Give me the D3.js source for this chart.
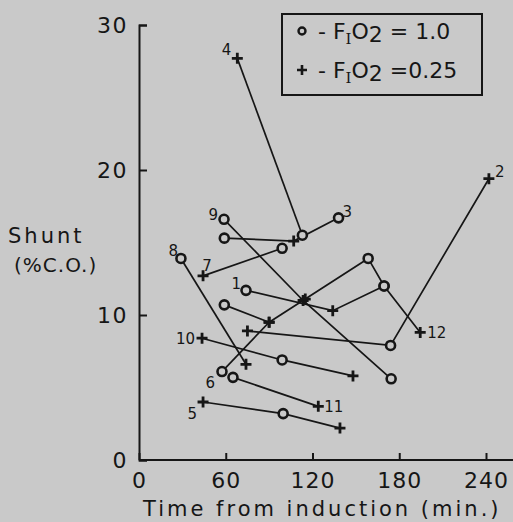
<!DOCTYPE html>
<html>
<head>
<meta charset="utf-8">
<script src="https://cdn.jsdelivr.net/npm/d3@7"></script>
<style>
  html, body { margin: 0; padding: 0; background: #c9c9c9; }
  svg { display: block; }
</style>
</head>
<body>
<div id="chart"></div>
<script>
// one entry per patient: times (min), shunt (%C.O.), FIO2 marker per point
const patientIds = ["1", "2", "3", "4", "5", "6", "7", "8", "9", "10", "11", "12"];
const patientTimes = [
  [74, 134, 169.5],
  [75, 174, 242],
  [59, 107, 138],
  [68, 113],
  [44.3, 99.7, 139],
  [57.4, 90],
  [44.3, 99],
  [29, 74],
  [58.8, 113.5, 174.4],
  [43.6, 99, 148],
  [65, 124],
  [59, 90, 115, 158.5, 169.5, 194.5]
];
const patientShunts = [
  [11.7, 10.3, 12.0],
  [8.9, 7.9, 19.4],
  [15.3, 15.1, 16.7],
  [27.7, 15.5],
  [4.0, 3.2, 2.2],
  [6.1, 9.5],
  [12.7, 14.6],
  [13.9, 6.6],
  [16.6, 11.0, 5.6],
  [8.4, 6.9, 5.8],
  [5.7, 3.7],
  [10.7, 9.5, 11.1, 13.9, 12.0, 8.8]
];
const patientFio2 = [
  ["1.0", "0.25", "1.0"],
  ["0.25", "1.0", "0.25"],
  ["1.0", "0.25", "1.0"],
  ["0.25", "1.0"],
  ["0.25", "1.0", "0.25"],
  ["1.0", "0.25"],
  ["0.25", "1.0"],
  ["1.0", "0.25"],
  ["1.0", "0.25", "1.0"],
  ["0.25", "1.0", "0.25"],
  ["1.0", "0.25"],
  ["1.0", "0.25", "0.25", "1.0", "1.0", "0.25"]
];
// which point the number is written next to
const labelAt = [0, 2, 2, 0, 0, 0, 0, 0, 0, 0, 1, 5];

const xTicks = [0, 60, 120, 180, 240];
const yTicks = [0, 10, 20, 30];

// label placement (styling only): dx, dy, anchor
const labelOffsets = [
  [-5, -1, "end"], [6, -2, "start"], [4, -1, "start"], [-6, -3, "end"],
  [-6, 17, "end"], [-7, 16, "end"], [4, -5, "middle"], [-3, -2, "end"],
  [-6, 1, "end"], [-7, 6, "end"], [6, 6, "start"], [7, 6, "start"]
];

const width = 513, height = 522;
const ink = "#161616";
const bg = "#c9c9c9";
const font = "'DejaVu Sans', sans-serif";

const svg = d3.select("#chart")
  .append("svg")
    .attr("width", width)
    .attr("height", height);

svg.append("rect").attr("width", width).attr("height", height).attr("fill", bg);

const x = d3.scaleLinear().domain([0, 240]).range([139, 486]);
const y = d3.scaleLinear().domain([0, 30]).range([460, 25]);

// y axis, ticks pointing inward
const yAxis = svg.append("g")
    .attr("transform", `translate(${x(0)},0)`)
    .call(d3.axisLeft(y).tickValues(yTicks).tickSizeInner(-8).tickSizeOuter(-8).tickPadding(11).tickFormat(d3.format("d")));
yAxis.selectAll("path, line").attr("stroke", ink).attr("stroke-width", 2);
yAxis.selectAll("text").attr("fill", ink).style("font", `22px ${font}`).style("letter-spacing", "1.5px");

// x axis, ticks pointing up
const xAxis = svg.append("g")
    .attr("transform", `translate(0,${y(0)})`)
    .call(d3.axisBottom(x).tickValues(xTicks).tickSizeInner(-7).tickSizeOuter(0).tickPadding(12).tickFormat(d3.format("d")));
xAxis.select(".domain").remove();
xAxis.selectAll("line").attr("stroke", ink).attr("stroke-width", 2);
xAxis.selectAll("text").attr("fill", ink).style("font", `22px ${font}`).style("letter-spacing", "1px");
xAxis.append("line")
    .attr("x1", x(0)).attr("x2", width)
    .attr("stroke", ink).attr("stroke-width", 2);

// axis titles
svg.append("text")
    .attr("x", 143).attr("y", 516)
    .attr("fill", ink).style("font", `21px ${font}`).style("letter-spacing", "3px")
    .text("Time from induction (min.)");
svg.append("text")
    .attr("x", 8).attr("y", 243)
    .attr("fill", ink).style("font", `21px ${font}`).style("letter-spacing", "3px")
    .text("Shunt");
svg.append("text")
    .attr("x", 14).attr("y", 272)
    .attr("fill", ink).style("font", `20px ${font}`).style("letter-spacing", "1px")
    .text("(%C.O.)");

const patients = patientIds.map((id, i) => ({
  id: id,
  label: labelAt[i],
  off: labelOffsets[i],
  pts: patientTimes[i].map((t, j) => ({ t: t, v: patientShunts[i][j], f: patientFio2[i][j] }))
}));

const line = d3.line().x(d => x(d.t)).y(d => y(d.v));

svg.append("g").selectAll("path")
  .data(patients)
  .enter()
  .append("path")
    .attr("d", d => line(d.pts))
    .attr("fill", "none")
    .attr("stroke", ink)
    .attr("stroke-width", 1.7);

const allPts = patients.flatMap(p => p.pts);

// FIO2 = 1.0 -> open circles
svg.append("g").selectAll("circle")
  .data(allPts.filter(d => d.f == "1.0"))
  .enter()
  .append("circle")
    .attr("cx", d => x(d.t))
    .attr("cy", d => y(d.v))
    .attr("r", 4.5)
    .attr("fill", bg)
    .attr("stroke", ink)
    .attr("stroke-width", 2.6);

// FIO2 = 0.25 -> plus signs
svg.append("g").selectAll("path")
  .data(allPts.filter(d => d.f == "0.25"))
  .enter()
  .append("path")
    .attr("transform", d => `translate(${x(d.t)},${y(d.v)})`)
    .attr("d", "M-5.5,0H5.5M0,-5.5V5.5")
    .attr("stroke", ink)
    .attr("stroke-width", 2.8);

// patient numbers
svg.append("g").selectAll("text")
  .data(patients)
  .enter()
  .append("text")
    .attr("x", d => x(d.pts[d.label].t) + d.off[0])
    .attr("y", d => y(d.pts[d.label].v) + d.off[1])
    .attr("text-anchor", d => d.off[2])
    .attr("fill", ink)
    .style("font", `15px ${font}`)
    .text(d => d.id);

// legend
const lg = svg.append("g");
lg.append("rect")
    .attr("x", 282).attr("y", 14).attr("width", 200).attr("height", 81)
    .attr("fill", "none").attr("stroke", ink).attr("stroke-width", 2);
lg.append("circle")
    .attr("cx", 302).attr("cy", 31).attr("r", 3.5)
    .attr("fill", bg).attr("stroke", ink).attr("stroke-width", 2.4);
lg.append("path")
    .attr("transform", "translate(302,70)")
    .attr("d", "M-5,0H5M0,-5V5")
    .attr("stroke", ink).attr("stroke-width", 2.6);

const legendRows = [["1.0", 39, " = 1.0"], ["0.25", 78, " =0.25"]];
legendRows.forEach(r => {
  const t = lg.append("text")
      .attr("x", 318).attr("y", r[1])
      .attr("fill", ink).style("font", `22px ${font}`);
  t.append("tspan").text("- F");
  t.append("tspan").attr("dy", 5).style("font-size", "15px").style("font-family", "'DejaVu Serif', serif").text("I");
  t.append("tspan").attr("dy", -5).text("O");
  t.append("tspan").attr("dy", 3).text("2");
  t.append("tspan").attr("dy", -3).text(r[2]);
});
</script>
</body>
</html>
